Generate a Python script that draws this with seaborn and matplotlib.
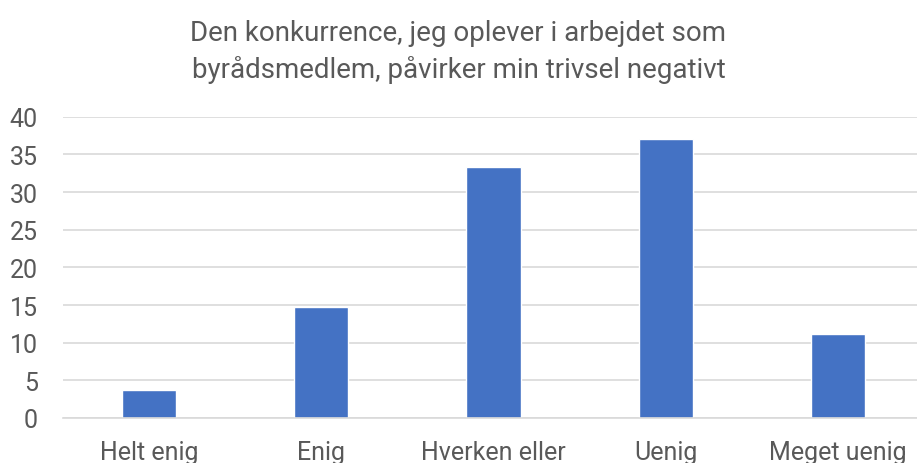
import matplotlib.pyplot as plt
import seaborn as sns
import pandas as pd

# data (percent of respondents)
kategorier = ['Helt enig', 'Enig', 'Hverken eller', 'Uenig', 'Meget uenig']
procent = [3.7, 14.8, 33.3, 37.0, 11.1]
titel = 'Den konkurrence, jeg oplever i arbejdet som\nbyrådsmedlem, påvirker min trivsel negativt'

df = pd.DataFrame({'kategori': kategorier, 'procent': procent})

sns.set_style('white')
plt.rcParams['font.family'] = ['Roboto', 'DejaVu Sans']

fig = plt.figure(figsize=(9.17, 4.64), dpi=100)
ax = fig.add_axes([0.0687, 0.097, 0.939, 0.649])

sns.barplot(data=df, x='kategori', y='procent', color='#4472C4',
            width=0.314, saturation=1, ax=ax)

ax.set_ylim(0, 40)
ax.set_yticks(range(0, 41, 5))
ax.set_xlim(-0.5, 4.5)
ax.yaxis.grid(True, color='#d9d9d9', linewidth=1.2)
ax.set_axisbelow(True)
for s in ['top', 'right', 'left']:
    ax.spines[s].set_visible(False)
ax.spines['bottom'].set_color('#d9d9d9')
ax.spines['bottom'].set_linewidth(1.2)
ax.tick_params(axis='both', length=0, labelsize=18, colors='#595959')
ax.tick_params(axis='x', pad=16)
ax.tick_params(axis='y', pad=18)
ax.set_xlabel('')
ax.set_ylabel('')

fig.text(0.5, 0.82, titel, ha='center', va='bottom', fontsize=20,
         color='#595959', linespacing=1.4)

fig.savefig('out.png', dpi=100)
